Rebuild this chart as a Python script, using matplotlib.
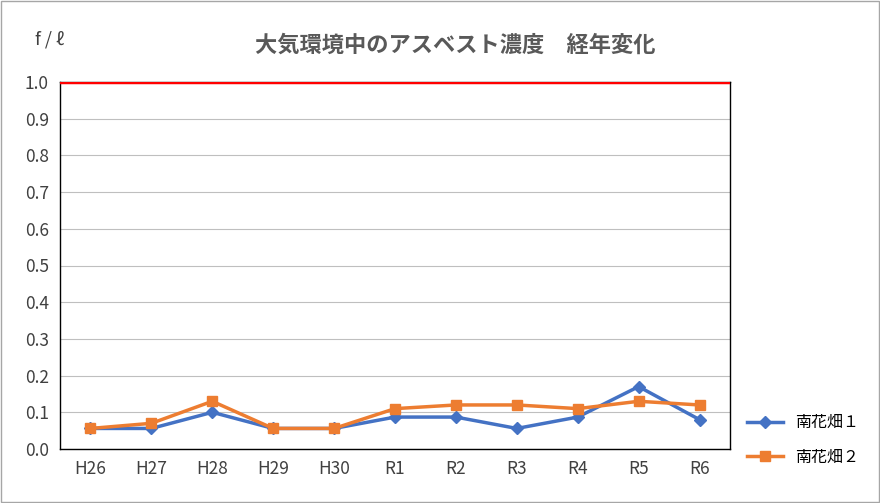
import matplotlib
matplotlib.use("Agg")
import matplotlib.pyplot as plt
from matplotlib.patches import Rectangle

plt.rcParams["font.family"] = ["Noto Sans CJK JP", "DejaVu Sans"]

categories = ["H26", "H27", "H28", "H29", "H30", "R1", "R2", "R3", "R4", "R5", "R6"]
series1 = [0.056, 0.056, 0.10, 0.056, 0.056, 0.087, 0.087, 0.056, 0.087, 0.17, 0.08]
series2 = [0.056, 0.07, 0.13, 0.056, 0.056, 0.11, 0.12, 0.12, 0.11, 0.13, 0.12]
names = ["南花畑１", "南花畑２"]
limit = 1.0
yticks = [0.0, 0.1, 0.2, 0.3, 0.4, 0.5, 0.6, 0.7, 0.8, 0.9, 1.0]

W, H = 880, 503
fig = plt.figure(figsize=(W/100, H/100), dpi=100)
ax = fig.add_axes([60/W, 1-449/H, (730-60)/W, (449-82)/H])
x = range(len(categories))
ax.plot(x, series1, color="#4472C4", lw=2.5, marker="D", ms=6, label=names[0], zorder=3)
ax.plot(x, series2, color="#ED7D31", lw=2.5, marker="s", ms=7, label=names[1], zorder=4)
ax.axhline(limit, color="#FF0000", lw=2.5, zorder=5)
ax.set_xlim(-0.5, len(categories)-0.5)
ax.set_ylim(0, 1.0)
ax.set_yticks(yticks)
ax.set_yticklabels([f"{v:.1f}" for v in yticks])
ax.set_xticks(list(x))
ax.set_xticklabels(categories)
ax.tick_params(length=0, labelsize=12.5, colors="#404040", pad=8)
ax.grid(axis="y", color="#BFBFBF", lw=0.8)
ax.set_axisbelow(True)
for s in ax.spines.values():
    s.set_color("black"); s.set_linewidth(1)
fig.text(455/W, 1-45/H, "大気環境中のアスベスト濃度　経年変化", ha="center", va="center", fontsize=16, fontweight="bold", color="#595959")
fig.text(50/W, 1-40/H, "f / ℓ", ha="center", va="center", fontsize=13, color="#404040")
fig.legend(loc="center left", bbox_to_anchor=(733/W, 1-440/H), frameon=False, fontsize=11.5, handlelength=2.2, labelspacing=1.1)
fig.patches.append(Rectangle((0.001, 0.001), 0.998, 0.998, transform=fig.transFigure, fill=False, ec="#A6A6A6", lw=1))
fig.savefig("out.png", dpi=100)
